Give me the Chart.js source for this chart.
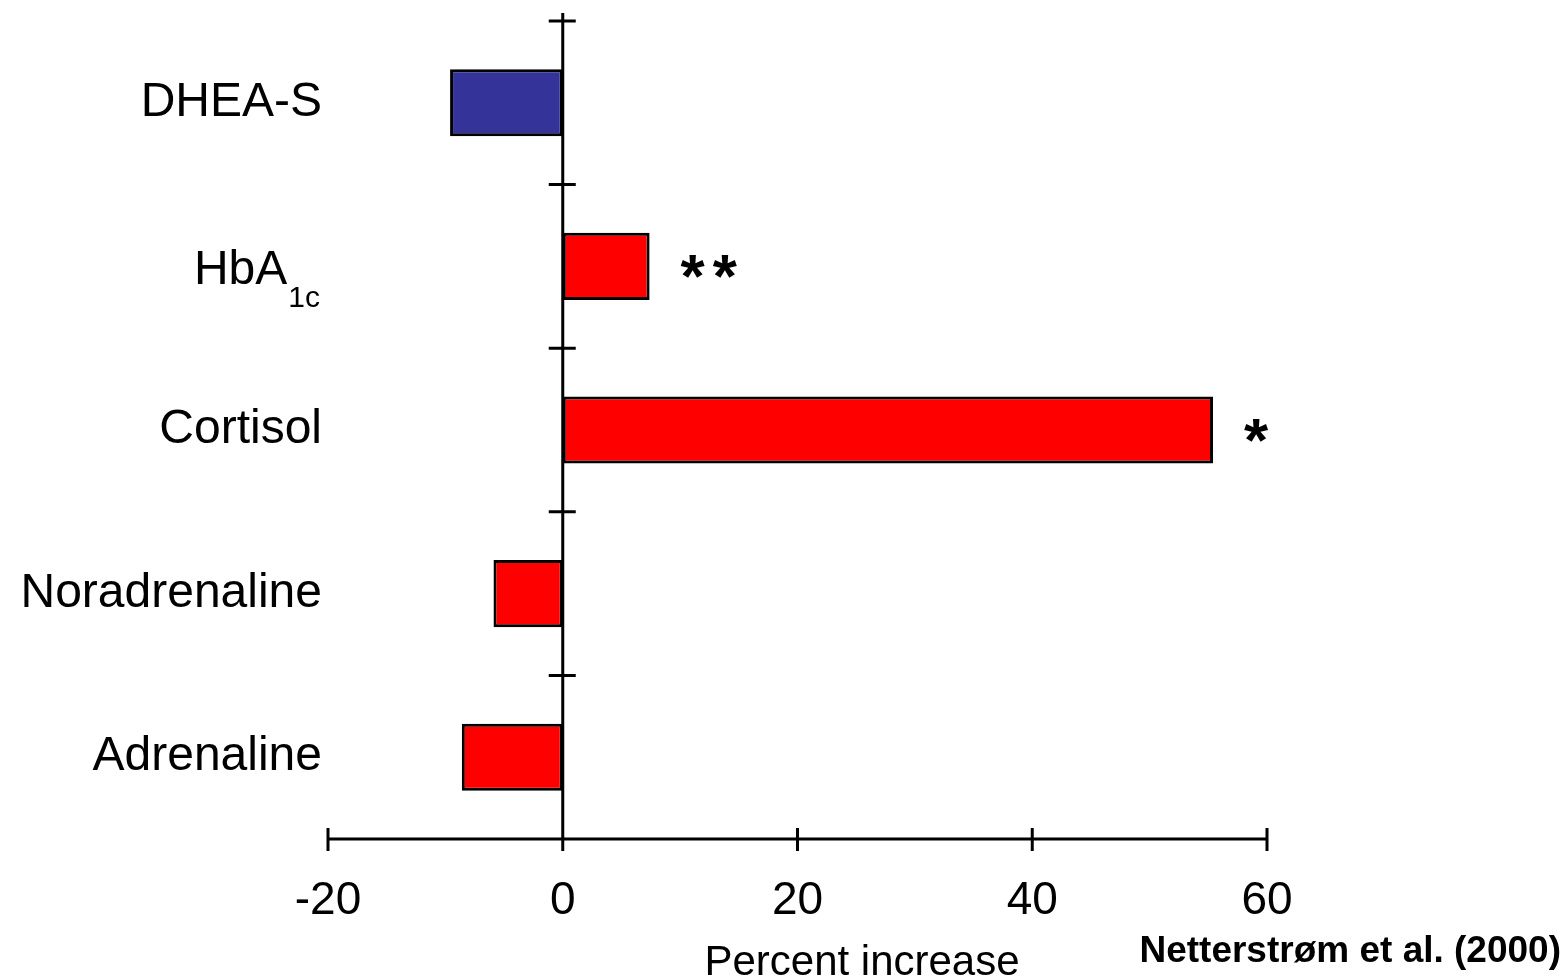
<!DOCTYPE html>
<html>
<head>
<meta charset="utf-8">
<script src="https://cdn.jsdelivr.net/npm/chart.js@4"></script>
<style>
  body { margin: 0; background: #fff; }
  canvas { display: block; }
</style>
</head>
<body>
<canvas id="chart" width="1566" height="978"></canvas>
<script>
// data
const categories = ['DHEA-S', 'HbA1c', 'Cortisol', 'Noradrenaline', 'Adrenaline'];
const percentIncrease = [-9.6, 7.4, 55.4, -5.9, -8.6];
const significance = ['', '**', '*', '', ''];
const xTicks = [-20, 0, 20, 40, 60];

const barColors = ['#333399', '#ff0000', '#ff0000', '#ff0000', '#ff0000'];
const FONT = '"Liberation Sans", Arial, Helvetica, sans-serif';
const LABEL_SIZE = 48;

// axis lines with ticks crossing them, subscript label, asterisks, texts
const decorations = {
  id: 'decorations',
  afterDatasetsDraw(chart) {
    const { ctx, chartArea, scales: { x, y } } = chart;
    ctx.save();
    ctx.strokeStyle = '#000';
    ctx.lineWidth = 3;

    // x axis
    const yb = chartArea.bottom;
    ctx.beginPath();
    ctx.moveTo(x.getPixelForValue(xTicks[0]), yb);
    ctx.lineTo(x.getPixelForValue(xTicks[xTicks.length - 1]), yb);
    xTicks.forEach(v => {
      const px = x.getPixelForValue(v);
      ctx.moveTo(px, yb - 11);
      ctx.lineTo(px, yb + 12);
    });

    // y axis at zero
    const x0 = x.getPixelForValue(0);
    const half = (y.getPixelForValue(1) - y.getPixelForValue(0)) / 2;
    ctx.moveTo(x0, y.getPixelForValue(0) - half - 8);
    ctx.lineTo(x0, yb + 12);
    categories.forEach((c, i) => {
      const py = y.getPixelForValue(i) - half;
      ctx.moveTo(x0 - 14, py);
      ctx.lineTo(x0 + 13, py);
    });
    ctx.stroke();

    // significance marks
    const meta = chart.getDatasetMeta(0);
    ctx.fillStyle = '#000';
    ctx.font = 'bold 62px ' + FONT;
    ctx.textAlign = 'left';
    ctx.textBaseline = 'alphabetic';
    ctx.letterSpacing = '8px';
    significance.forEach((s, i) => {
      if (!s) return;
      const bar = meta.data[i];
      ctx.fillText(s, bar.x + 31, bar.y + 31);
    });
    ctx.letterSpacing = '0px';

    // HbA1c label with subscript
    const idx = categories.indexOf('HbA1c');
    const ly = y.getPixelForValue(idx) + 0.358 * LABEL_SIZE;
    const rightX = y.right - 8;
    ctx.font = '30px ' + FONT;
    ctx.textAlign = 'right';
    ctx.fillText('1c', rightX, ly + 23);
    const subW = ctx.measureText('1c').width;
    ctx.font = LABEL_SIZE + 'px ' + FONT;
    ctx.fillText('HbA', rightX - subW - 1, ly);

    // axis title and source
    ctx.textAlign = 'center';
    ctx.font = '42px ' + FONT;
    ctx.fillText('Percent increase', 862, 975);
    ctx.textAlign = 'right';
    ctx.font = 'bold 37px ' + FONT;
    ctx.fillText('Netterstrøm et al. (2000)', 1561, 962);
    ctx.restore();
  }
};

new Chart(document.getElementById('chart'), {
  type: 'bar',
  data: {
    labels: categories,
    datasets: [{
      data: percentIncrease,
      backgroundColor: barColors,
      borderColor: '#000',
      borderWidth: 3,
      borderSkipped: false,
      barPercentage: 0.41,
      categoryPercentage: 1
    }]
  },
  options: {
    indexAxis: 'y',
    responsive: false,
    animation: false,
    layout: { padding: { top: 21, right: 299, left: 0, bottom: 0 } },
    plugins: { legend: { display: false }, tooltip: { enabled: false } },
    scales: {
      x: {
        min: -20,
        max: 60,
        afterBuildTicks: (scale) => { scale.ticks = xTicks.map(v => ({ value: v })); },
        afterFit: (scale) => {
          scale.height = 139;
          scale.paddingLeft = 0;
          scale.paddingRight = 0;
        },
        grid: { display: false, drawTicks: false },
        border: { display: false },
        ticks: { color: '#000', padding: 35, font: { family: FONT, size: 46 } }
      },
      y: {
        afterFit: (scale) => {
          scale.width = 328;
          scale.paddingTop = 0;
          scale.paddingBottom = 0;
        },
        grid: { display: false, drawTicks: false },
        border: { display: false },
        ticks: {
          color: '#000',
          padding: 6,
          font: { family: FONT, size: LABEL_SIZE },
          callback: function (value) {
            const label = this.getLabelForValue(value);
            return label === 'HbA1c' ? '' : label;
          }
        }
      }
    }
  },
  plugins: [decorations]
});
</script>
</body>
</html>
